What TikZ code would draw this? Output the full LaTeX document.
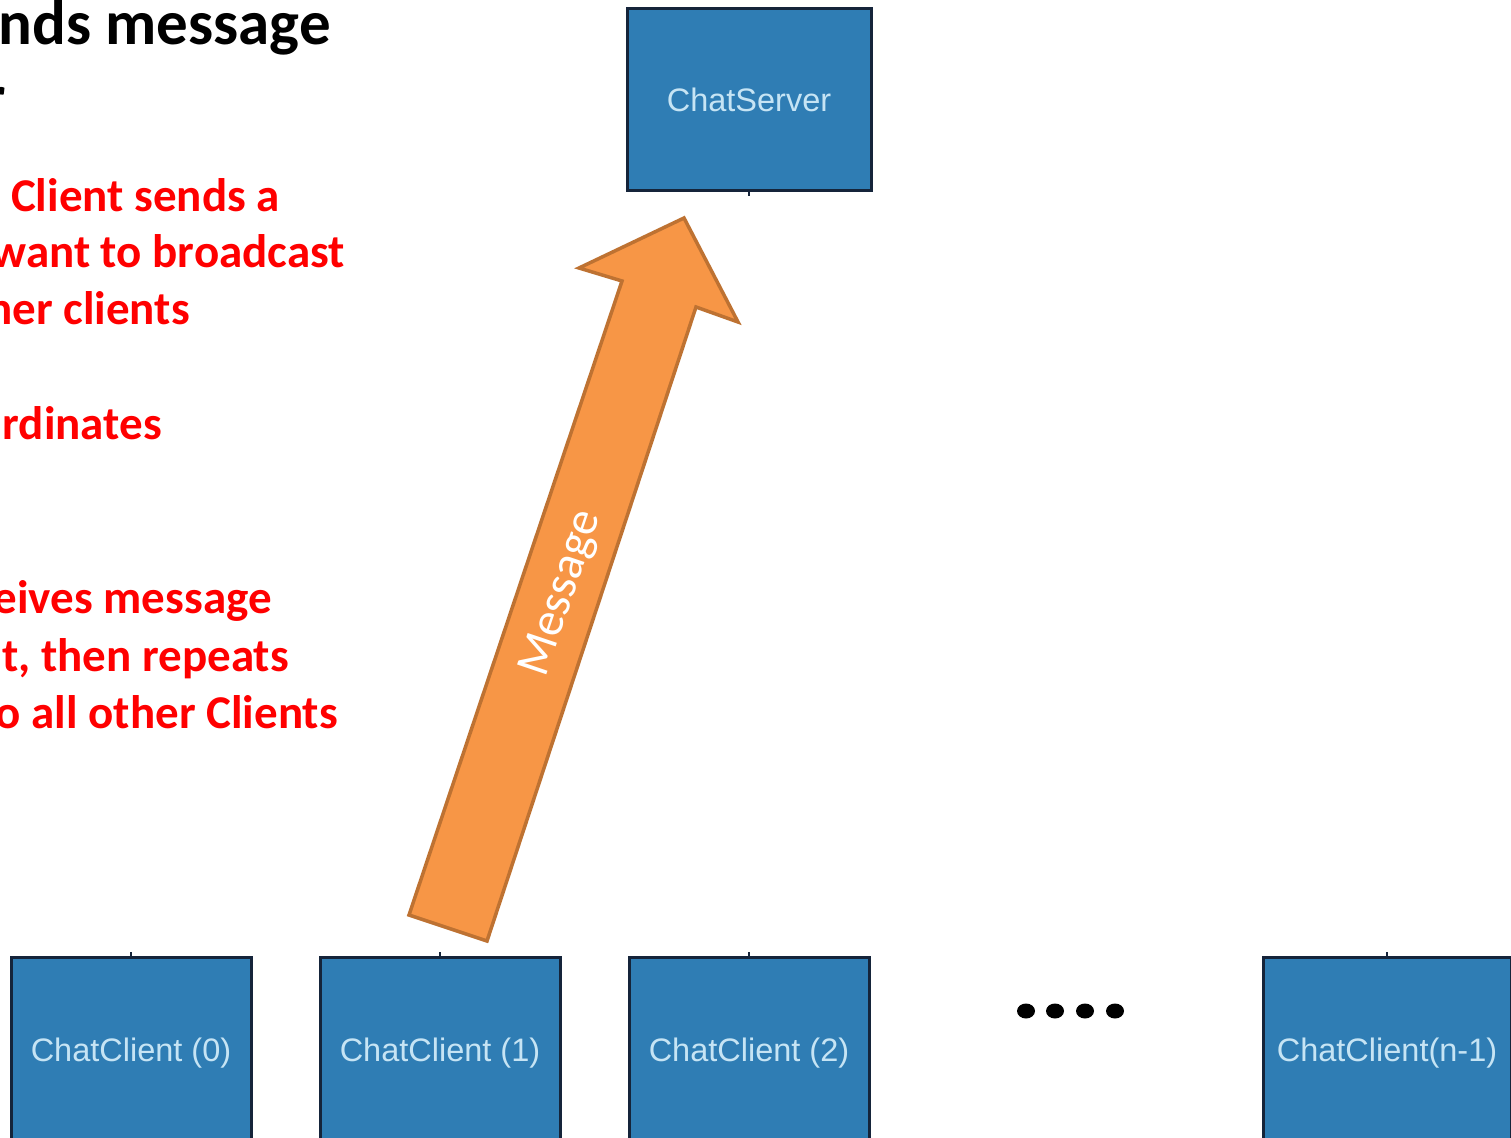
\documentclass[tikz,border=0pt]{standalone}
\usepackage{fontspec}
\setmainfont{Carlito}
\newfontfamily\boxfont{Liberation Sans}
\definecolor{boxblue}{HTML}{2F7DB4}
\definecolor{boxedge}{HTML}{15243A}
\definecolor{boxtext}{HTML}{C6E4F4}
\definecolor{arrowfill}{HTML}{F79646}
\definecolor{arrowedge}{HTML}{BE7232}
\tikzset{
  hostbox/.style={draw=boxedge, line width=3pt, fill=boxblue, text=boxtext,
    font=\boxfont\fontsize{32.5}{36}\selectfont, inner sep=0pt},
  serverbox/.style={hostbox, minimum width=244pt, minimum height=181pt},
  clientbox/.style={hostbox, minimum width=240pt, minimum height=192pt},
  redline/.style={text=red, font=\bfseries\fontsize{47}{57}\selectfont, inner sep=0pt, anchor=base east},
  titleline/.style={text=black, font=\bfseries\fontsize{63}{72}\selectfont, inner sep=0pt, anchor=base east},
  tick/.style={draw=boxedge, line width=1.5pt},
  blockarrow/.style={fill=arrowfill, draw=arrowedge, line width=3.5pt, line join=miter},
  dot/.style={fill=black, draw=none}
}
\begin{document}
\begin{tikzpicture}[x=1pt, y=-1pt]
\useasboundingbox (0,0) rectangle (1511,1137);
\clip (0,0) rectangle (1511,1137);
\fill[white] (0,0) rectangle (1511,1137);

% heading and notes on the left
\node[titleline] (t1) at (331,45) {nds message};
\node[titleline] (t2) at (6,118) {r};
\node[redline] (r1) at (280,211) {Client sends a};
\node[redline] (r2) at (345,267) {want to broadcast};
\node[redline] (r3) at (190,324) {her clients};
\node[redline] (r4) at (162,439) {rdinates};
\node[redline] (r5) at (272,613) {eives message};
\node[redline] (r6) at (289,671) {t, then repeats};
\node[redline] (r7) at (338,728) {o all other Clients};

% server
\node[serverbox] (server) at (749,99.5) {ChatServer};
\draw[tick] (server.south) -- ++(0,4);

% clients
\node[clientbox] (c0) at (131,1053) {ChatClient (0)};
\node[clientbox] (c1) at (440,1053) {ChatClient (1)};
\node[clientbox] (c2) at (749,1053) {ChatClient (2)};
\node[clientbox, minimum width=248pt] (cn) at (1387,1053) {ChatClient(n-1)};
\foreach \c in {c0,c1,c2,cn} \draw[tick] (\c.north) -- ++(0,-4);

% ellipsis between the clients
\foreach \x/\n in {1026/d1,1055/d2,1085/d3,1115/d4}
  \fill[dot] (\x,1011) ellipse [x radius=9pt, y radius=7.5pt] coordinate (\n);

% message arrow from client (1) up to the server
\coordinate (tip) at (684,218);
\draw[blockarrow] (tip) -- (738,322) -- (696,307) -- (487,941) -- (409,915)
  -- (622,281) -- (579,268) -- cycle;
\node[text=white, font=\fontsize{48}{50}\selectfont, rotate=71.4, inner sep=0pt]
  (msg) at (562,594) {Message};
\end{tikzpicture}
\end{document}
